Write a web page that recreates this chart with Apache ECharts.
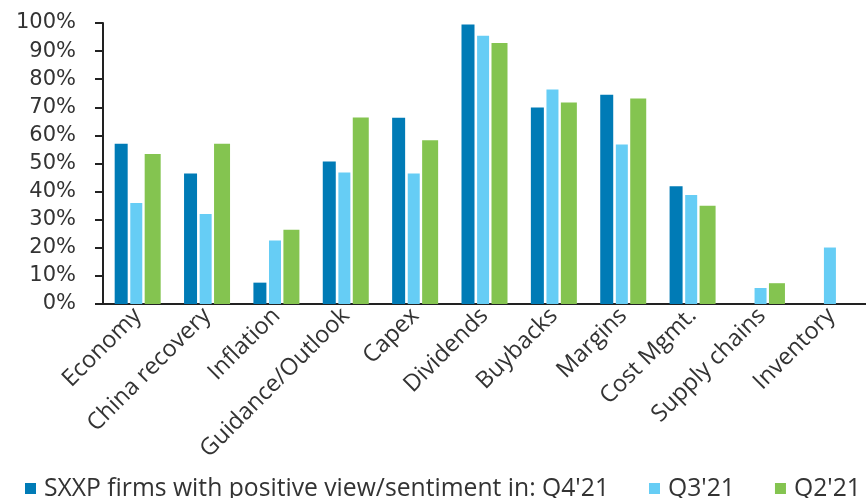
<!DOCTYPE html>
<html>
<head>
<meta charset="utf-8">
<script src="https://cdn.jsdelivr.net/npm/echarts@6/dist/echarts.min.js"></script>
<style>
html,body{margin:0;padding:0;background:#fff;}
#chart{width:866px;height:498px;}
</style>
</head>
<body>
<div id="chart"></div>
<script>
const categories = ['Economy','China recovery','Inflation','Guidance/Outlook','Capex','Dividends','Buybacks','Margins','Cost Mgmt.','Supply chains','Inventory'];
const seriesNames = ["SXXP firms with positive view/sentiment in: Q4'21", "Q3'21", "Q2'21"];
const q4_21 = [57.0, 46.4, 7.6, 50.7, 66.3, 99.5, 69.9, 74.5, 41.9, 0, 0];
const q3_21 = [35.9, 32.0, 22.6, 46.8, 46.4, 95.5, 76.3, 56.8, 38.8, 5.7, 20.1];
const q2_21 = [53.4, 57.0, 26.4, 66.4, 58.3, 92.9, 71.7, 73.1, 35.0, 7.4, 0];
const yTicks = [0,10,20,30,40,50,60,70,80,90,100];

const colors = ['#007bb6', '#66cdf5', '#84c450'];
const chart = echarts.init(document.getElementById('chart'));
const font = 'Open Sans';
chart.setOption({
  animation: false,
  textStyle: {fontFamily: font},
  grid: {left: 103, right: -3, top: 23, bottom: 194, containLabel: false},
  legend: {
    left: 20, top: 471, itemWidth: 11, itemHeight: 11, itemGap: 40,
    icon: 'rect',
    textStyle: {fontFamily: font, fontSize: 24.7, color: '#333', padding: [0,0,0,3]},
    data: seriesNames
  },
  xAxis: {
    type: 'category', data: categories,
    axisLine: {lineStyle: {color: '#222', width: 2}},
    axisTick: {length: 7, lineStyle: {color: '#222', width: 2}},
    axisLabel: {rotate: 45, interval: 0, fontFamily: font, fontSize: 23.5, color: '#333', margin: 8}
  },
  yAxis: {
    type: 'value', min: 0, max: 100, interval: 10,
    splitLine: {show: false},
    axisLine: {show: true, lineStyle: {color: '#222', width: 2}},
    axisTick: {show: true, length: 8, lineStyle: {color: '#222', width: 2}},
    axisLabel: {fontFamily: 'DejaVu Sans', fontSize: 21, color: '#333', margin: 27,
      formatter: v => yTicks.includes(v) ? v + '%' : ''}
  },
  series: [
    {name: seriesNames[0], type: 'bar', data: q4_21, barWidth: 13, barGap: '20%', itemStyle: {color: colors[0]}},
    {name: seriesNames[1], type: 'bar', data: q3_21, barWidth: 12, barGap: '20%', itemStyle: {color: colors[1]}},
    {name: seriesNames[2], type: 'bar', data: q2_21, barWidth: 16, barGap: '20%', itemStyle: {color: colors[2]}}
  ]
});
</script>
</body>
</html>
